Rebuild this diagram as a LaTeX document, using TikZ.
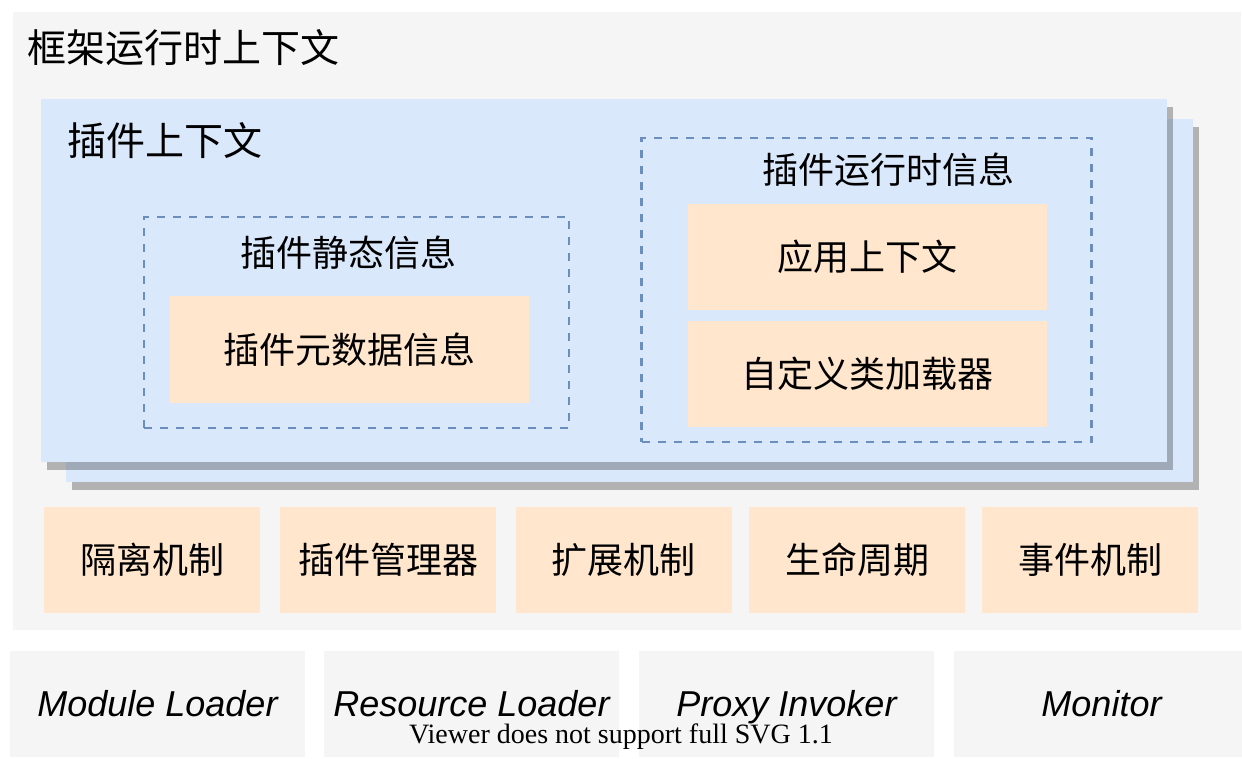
\documentclass[tikz,border=0pt]{standalone}
\usepackage{fontspec}
\newfontfamily\cjk{Noto Sans CJK SC}
\newfontfamily\arialsans{Liberation Sans}
\newfontfamily\timesserif{Liberation Serif}
\usetikzlibrary{shadows}
\definecolor{frameGray}{HTML}{F5F5F5}
\definecolor{ctxBlue}{HTML}{DAE8FC}
\definecolor{dashBlue}{HTML}{6C8EBF}
\definecolor{partOrange}{HTML}{FFE6CC}
\tikzset{
  box/.style={inner sep=0pt,outer sep=0pt,anchor=center},
  greybox/.style={box,fill=frameGray},
  bluebox/.style={box,fill=ctxBlue,drop shadow={shadow xshift=6pt,shadow yshift=-8pt,fill=black,opacity=0.27}},
  dashbox/.style={box,draw=dashBlue,line width=2.3pt,dash pattern=on 8pt off 8pt},
  partbox/.style={box,fill=partOrange,font=\cjk\fontsize{36}{40}\selectfont},
  loaderbox/.style={greybox,minimum width=295pt,minimum height=106pt,text height=30pt,text depth=6pt,font=\arialsans\itshape\fontsize{36}{40}\selectfont},
  bigtitle/.style={inner sep=0pt,anchor=west,font=\cjk\fontsize{39}{44}\selectfont},
  subtitle/.style={inner sep=0pt,font=\cjk\fontsize{36}{40}\selectfont},
}

\begin{document}
\begin{tikzpicture}[x=1pt,y=-1pt]
\clip (0,0) rectangle (1242,758);
\fill[white] (0,0) rectangle (1242,758);
%
\node[greybox,minimum width=1228pt,minimum height=618pt] (frame) at (627,321) {};
\node[bigtitle] (frameT) at (27,48) {框架运行时上下文};
%
\node[bluebox,minimum width=1127pt,minimum height=363pt] (ctxBack) at (629.5,300.5) {};
\node[bluebox,minimum width=1126pt,minimum height=363pt] (ctxFront) at (604,280.5) {};
\node[bigtitle] (ctxT) at (67,141) {插件上下文};
%
\node[dashbox,minimum width=425pt,minimum height=211pt] (static) at (356.5,322.5) {};
\node[subtitle] (staticT) at (348,253) {插件静态信息};
\node[partbox,minimum width=359pt,minimum height=107pt] (meta) at (349.5,349.5) {插件元数据信息};
%
\node[dashbox,minimum width=450pt,minimum height=304pt] (runtime) at (866.5,290) {};
\node[subtitle] (runtimeT) at (888,170) {插件运行时信息};
\node[partbox,minimum width=359pt,minimum height=106pt] (app) at (867,257) {应用上下文};
\node[partbox,minimum width=359pt,minimum height=106pt] (loader) at (867,374) {自定义类加载器};
%
\node[partbox,minimum width=216pt,minimum height=106pt] (iso) at (152,560) {隔离机制};
\node[partbox,minimum width=216pt,minimum height=106pt] (mgr) at (388,560) {插件管理器};
\node[partbox,minimum width=216pt,minimum height=106pt] (ext) at (623.5,560) {扩展机制};
\node[partbox,minimum width=216pt,minimum height=106pt] (life) at (857,560) {生命周期};
\node[partbox,minimum width=216pt,minimum height=106pt] (evt) at (1090,560) {事件机制};
%
\node[loaderbox] (modL) at (157.5,704) {Module Loader};
\node[loaderbox] (resL) at (471.5,704) {Resource Loader};
\node[loaderbox] (proxy) at (786.5,704) {Proxy Invoker};
\node[loaderbox] (mon) at (1101.5,704) {Monitor};
%
\node[inner sep=0pt,anchor=base,font=\timesserif\fontsize{28}{32}\selectfont] (viewer) at (621,743) {Viewer does not support full SVG 1.1};
\end{tikzpicture}
\end{document}
